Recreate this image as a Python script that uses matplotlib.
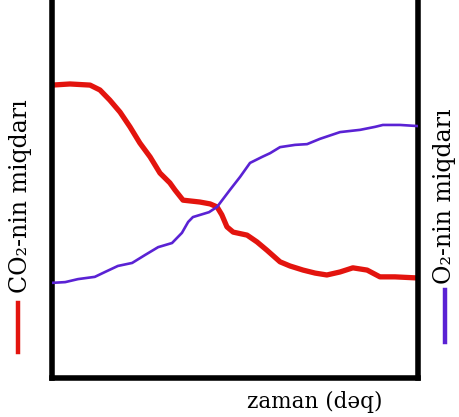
import matplotlib
matplotlib.use("Agg")
from matplotlib import pyplot as plt
from matplotlib.lines import Line2D

# time (arbitrary units, 0..100) and amounts (0..100)
co2_t = [0, 4.9, 10.4, 13.1, 15.8, 18.6, 21.3, 24.0, 26.8, 29.5, 32.2, 33.6, 35.8,
         40.4, 43.2, 45.1, 46.4, 47.8, 49.5, 53.3, 56.0, 58.7, 62.3, 65.0, 68.6,
         71.9, 75.1, 78.7, 82.2, 86.1, 89.6, 93.7, 100]
co2_v = [77.9, 78.2, 77.9, 76.6, 73.9, 70.7, 66.8, 62.5, 58.8, 54.5, 51.9, 50.0, 47.3,
         46.8, 46.3, 45.5, 43.4, 40.2, 38.8, 38.0, 36.2, 34.0, 30.9, 29.8, 28.7,
         27.9, 27.4, 28.2, 29.3, 28.7, 26.9, 26.9, 26.6]

o2_t = [0, 3.6, 7.1, 11.7, 14.5, 18.0, 21.9, 25.4, 29.0, 32.8, 35.5, 37.2, 38.5,
        42.9, 45.1, 48.6, 51.4, 54.1, 57.4, 59.6, 62.3, 66.4, 69.7, 73.2, 78.7,
        84.2, 88.3, 90.4, 95.1, 100]
o2_v = [25.3, 25.5, 26.3, 26.9, 28.2, 29.8, 30.6, 32.7, 34.8, 35.9, 38.6, 41.5, 42.8,
        44.1, 45.5, 50.0, 53.5, 57.2, 58.8, 59.8, 61.4, 62.0, 62.2, 63.6, 65.4,
        66.0, 66.8, 67.3, 67.3, 67.0]

co2_label = "CO₂-nin miqdarı"
o2_label = "O₂-nin miqdarı"
x_label = "zaman (dəq)"

red = "#e3140e"
purple = "#5a22d4"
serif = ["DejaVu Serif", "Liberation Serif"]

fig = plt.figure(figsize=(4.59, 4.17), dpi=100)
ax = fig.add_axes([52 / 459, 39 / 417, 366 / 459, 376 / 417])

ax.plot(co2_t, co2_v, color=red, lw=3.8, solid_capstyle="butt", zorder=2)
ax.plot(o2_t, o2_v, color=purple, lw=1.9, zorder=3)

ax.set_xlim(0, 100)
ax.set_ylim(0, 100)
ax.set_xticks([])
ax.set_yticks([])
ax.spines["top"].set_visible(False)
for s in ("left", "right", "bottom"):
    ax.spines[s].set_linewidth(4)
    ax.spines[s].set_color("black")

# axis labels
fig.text(315 / 459, 1 - 402 / 417, x_label, ha="center", va="center",
         fontsize=15.5, family=serif)
fig.text(21 / 459, 1 - 196 / 417, co2_label, ha="center", va="center",
         rotation=90, fontsize=17, family=serif)
fig.text(445 / 459, 1 - 196 / 417, o2_label, ha="center", va="center",
         rotation=90, fontsize=17, family=serif)

# small colour keys below the labels
fig.add_artist(Line2D([18 / 459, 18 / 459], [1 - 303 / 417, 1 - 352 / 417],
                      color=red, lw=3.2, transform=fig.transFigure))
fig.add_artist(Line2D([445 / 459, 445 / 459], [1 - 290 / 417, 1 - 342 / 417],
                      color=purple, lw=3.2, transform=fig.transFigure))

fig.savefig("out.png", dpi=100)
